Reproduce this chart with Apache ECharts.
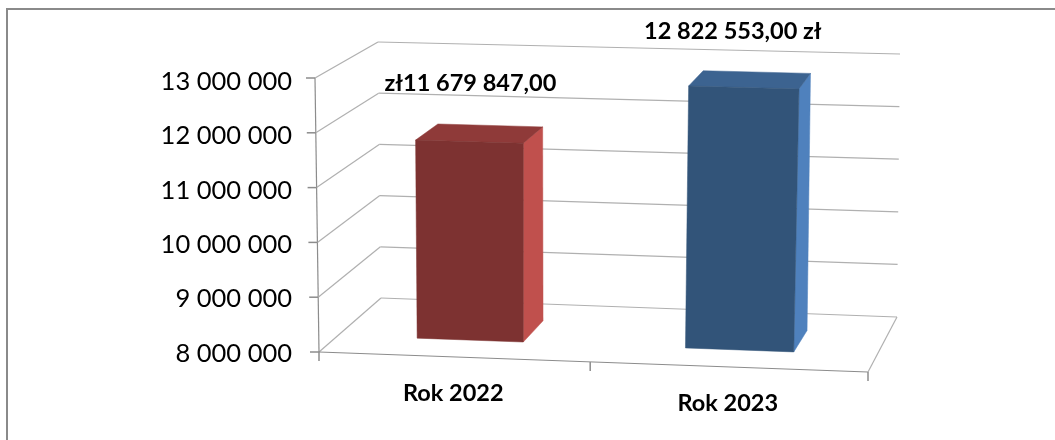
<!DOCTYPE html>
<html><head><meta charset="utf-8">
<style>html,body{margin:0;padding:0;background:#fff}#c{width:1055px;height:440px}</style>
<script src="https://cdn.jsdelivr.net/npm/echarts@6/dist/echarts.min.js"></script>
</head><body><div id="c"></div>
<script>
const categories = ['Rok 2022', 'Rok 2023'];
const values = [11679847, 12822553];
const valueLabels = ['zł11 679 847,00', '12 822 553,00 zł'];
const tickValues = [8000000, 9000000, 10000000, 11000000, 12000000, 13000000];
const minValue = 8000000, maxValue = 13000000;

// Perspective box of the "3D" plot: corners [x, y] indexed front/back, left/right, bottom/top
const box = {
  flb: [319, 352], flt: [315, 78], frb: [868, 372], frt: [877, 94],
  blb: [381, 298], blt: [378, 42], brb: [897, 317], brt: [900, 54]
};
const lerp = (a, b, t) => [a[0] + (b[0] - a[0]) * t, a[1] + (b[1] - a[1]) * t];
function project(u, t, w) {
  const fb = lerp(box.flb, box.frb, u), ft = lerp(box.flt, box.frt, u);
  const bb = lerp(box.blb, box.brb, u), bt = lerp(box.blt, box.brt, u);
  return lerp(lerp(fb, ft, t), lerp(bb, bt, t), w);
}
const gridTop = 81.5, gridH = 272;
// value -> 0..1 height fraction through the library's own y scale
const frac = (api, v) => (gridTop + gridH - api.coord([0, v])[1]) / gridH;

const barCentres = [0.245, 0.745], barHalves = [0.0985, 0.1005], depthFront = 0.31, depthBack = 0.70;
const barColors = [
  { front: '#7d3231', top: '#8f3a39', side: '#c0504d' },
  { front: '#325479', top: '#3c6390', side: '#4f81bd' }
];
const labelOffsets = [[1, -58], [-11, -56]];
const font = 'Lato, "Open Sans", sans-serif';
const boldFont = 'bold 23.5px ' + font;

function line(a, b, color, width) {
  return { type: 'line', shape: { x1: a[0], y1: a[1], x2: b[0], y2: b[1] },
           style: { stroke: color, lineWidth: width || 1 } };
}
function poly(points, fill) {
  return { type: 'polygon', shape: { points }, style: { fill, stroke: fill, lineWidth: 0.5 } };
}

const gridColor = '#b0b0b0', axisColor = '#8c8c8c';

const option = {
  animation: false,
  backgroundColor: '#fff',
  graphic: [{
    type: 'polyline', silent: true,
    shape: { points: [[7, 440], [7, 9], [1055, 9]] },
    style: { fill: 'none', stroke: '#8a8a8a', lineWidth: 2 }
  }],
  grid: { left: 316, right: 155, top: gridTop, height: gridH },
  xAxis: { type: 'category', data: categories, show: false },
  yAxis: {
    type: 'value', min: minValue, max: maxValue, interval: 1000000,
    axisLine: { show: false }, axisTick: { show: false }, splitLine: { show: false },
    axisLabel: {
      margin: 24, color: '#000', fontFamily: font, fontSize: 25.5,
      formatter: v => String(v).replace(/\B(?=(\d{3})+$)/g, ' ')
    }
  },
  series: [
    {
      type: 'custom', coordinateSystem: 'cartesian2d', silent: true, z: 1,
      data: tickValues.map(v => [0, v]),
      encode: { x: 0, y: 1 },
      renderItem(params, api) {
        const t = frac(api, api.value(1));
        const p0 = project(0, t, 0);
        const kids = [
          line(p0, project(0, t, 1), gridColor, 1.2),
          line(project(0, t, 1), project(1, t, 1), gridColor, 1.2),
          line(p0, [p0[0] - 9, p0[1]], axisColor, 1.5)
        ];
        if (params.dataIndex === 0) {
          kids.push(line(project(0, 0, 0), project(1, 0, 0), axisColor, 1.2));
          kids.push(line(project(1, 0, 0), project(1, 0, 1), gridColor, 1.2));
          kids.push(line(project(0, 0, 0), project(0, 1, 0), axisColor, 1.2));
          [0, 0.494, 1].forEach(u => {
            const p = project(u, 0, 0);
            kids.push(line(p, [p[0], p[1] + 9], axisColor, 1.5));
          });
        }
        return { type: 'group', children: kids };
      }
    },
    {
      type: 'custom', coordinateSystem: 'cartesian2d', silent: true, z: 2,
      data: categories.map((c, i) => [i, values[i]]),
      encode: { x: 0, y: 1 },
      renderItem(params, api) {
        const i = params.dataIndex;
        const t = frac(api, api.value(1));
        const c = barColors[i];
        const uc = barCentres[i];
        const u0 = uc - barHalves[i], u1 = uc + barHalves[i];
        const P = project;
        const off = labelOffsets[i];
        const topC = P(uc, t, depthFront);
        const base = project(0.25 + 0.5 * i, 0, 0);
        return { type: 'group', children: [
          poly([P(u1, 0, depthFront), P(u1, 0, depthBack), P(u1, t, depthBack), P(u1, t, depthFront)], c.side),
          poly([P(u0, t, depthFront), P(u1, t, depthFront), P(u1, t, depthBack), P(u0, t, depthBack)], c.top),
          poly([P(u0, 0, depthFront), P(u1, 0, depthFront), P(u1, t, depthFront), P(u0, t, depthFront)], c.front),
          { type: 'text', style: { x: topC[0] + off[0], y: topC[1] + off[1], text: valueLabels[i],
              fill: '#000', font: boldFont, align: 'center', verticalAlign: 'middle' } },
          { type: 'text', style: { x: base[0] - 3, y: base[1] + 36, text: categories[i],
              fill: '#000', font: boldFont, align: 'center', verticalAlign: 'middle' } }
        ] };
      }
    }
  ]
};
echarts.init(document.getElementById('c'), null, { renderer: 'canvas' }).setOption(option);
</script></body></html>
